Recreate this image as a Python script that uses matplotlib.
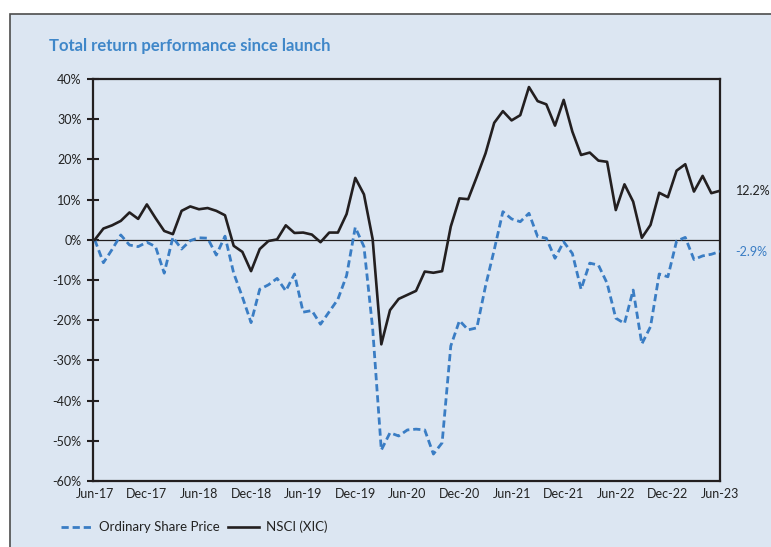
import numpy as np
import matplotlib.pyplot as plt
from matplotlib.patches import Rectangle
from matplotlib.lines import Line2D

plt.rcParams['font.family'] = ['Lato', 'DejaVu Sans']

# monthly total return since launch (%), Jun-17 .. Jun-23
share_price = [0.0, -5.7, -2.4, 1.2, -1.3, -1.7, -0.6, -1.7, -8.3, 0.6,
               -2.3, -0.2, 0.5, 0.4, -3.8, 0.9, -8.3, -14.2, -20.6, -12.3,
               -11.2, -9.6, -12.7, -8.5, -18.0, -17.6, -21.0, -17.9, -14.8, -8.9,
               3.1, -1.7, -22.0, -52.3, -48.0, -48.8, -47.3, -47.1, -47.3, -53.3,
               -50.5, -26.4, -20.1, -22.4, -21.9, -11.5, -2.5, 7.0, 5.2, 4.5,
               6.6, 0.8, 0.4, -4.6, -0.5, -3.4, -12.3, -5.8, -6.3, -10.8,
               -19.5, -20.8, -12.5, -25.9, -21.6, -8.5, -9.2, -0.3, 0.6, -4.9,
               -4.0, -3.6, -2.9]
nsci = [0.0, 2.8, 3.6, 4.7, 6.8, 5.2, 8.8, 5.4, 2.2, 1.4,
        7.2, 8.3, 7.6, 7.9, 7.2, 6.1, -1.5, -3.0, -7.8, -2.3,
        -0.3, 0.1, 3.6, 1.7, 1.8, 1.3, -0.6, 1.8, 1.8, 6.4,
        15.4, 11.3, 0.2, -26.0, -17.5, -14.7, -13.7, -12.7, -7.9, -8.2,
        -7.8, 3.3, 10.3, 10.1, 15.7, 21.5, 29.1, 32.0, 29.7, 31.0,
        38.0, 34.5, 33.7, 28.4, 34.8, 26.9, 21.1, 21.7, 19.7, 19.4,
        7.4, 13.8, 9.5, 0.5, 3.7, 11.7, 10.6, 17.2, 18.8, 12.0,
        15.9, 11.6, 12.2]
tick_labels = ['Jun-17', 'Dec-17', 'Jun-18', 'Dec-18', 'Jun-19', 'Dec-19', 'Jun-20',
               'Dec-20', 'Jun-21', 'Dec-21', 'Jun-22', 'Dec-22', 'Jun-23']
y_ticks = list(range(-60, 41, 10))

blue = '#3a7dc4'
dark = '#231f20'
panel = '#dce6f2'
dash = (0, (2.6, 1.4))

months = np.arange(len(nsci))

fig = plt.figure(figsize=(7.71, 5.47), dpi=100)
fig.patch.set_facecolor('white')
fig.patches.append(Rectangle((10 / 771, -0.1), 1.2, 1 - 14 / 547 + 0.1,
                             transform=fig.transFigure, facecolor=panel,
                             edgecolor='#4d4d4d', linewidth=1.2, zorder=-10))

ax = fig.add_axes([93 / 771, 1 - 481 / 547, 627 / 771, 402 / 547])
ax.set_facecolor(panel)

ax.plot(months, share_price, color=blue, lw=2.0, ls=dash, zorder=3)
ax.plot(months, nsci, color=dark, lw=1.9, zorder=4)
ax.axhline(0, color=dark, lw=0.9, zorder=2)

ax.set_xlim(-0.2, 72)
ax.set_ylim(-60, 40)
ax.set_yticks(y_ticks)
ax.set_yticklabels([f'{v}%' for v in y_ticks])
ax.set_xticks(months[::6])
ax.set_xticklabels(tick_labels)
ax.tick_params(axis='y', direction='inout', length=8.5, width=1.5, color=dark,
               labelsize=9, labelcolor='#222222', pad=4)
ax.tick_params(axis='x', length=0, labelsize=9, labelcolor='#222222', pad=5)
for s in ax.spines.values():
    s.set_color(dark)
    s.set_linewidth(1.6)

ax.annotate(f'{nsci[-1]:.1f}%', (months[-1], nsci[-1]), xytext=(16, 0),
            textcoords='offset pixels', va='center', ha='left',
            fontsize=9, color='#222222', annotation_clip=False)
ax.annotate(f'{share_price[-1]:.1f}%', (months[-1], share_price[-1]), xytext=(15, -1),
            textcoords='offset pixels', va='center', ha='left',
            fontsize=9, color=blue, annotation_clip=False)

fig.text(49 / 771, 1 - 46 / 547, 'Total return performance since launch',
         fontsize=12, fontweight='bold', color='#3f87c9', va='center', ha='left')

handles = [Line2D([], [], color=blue, lw=2.0, ls=dash),
           Line2D([], [], color=dark, lw=1.9)]
fig.legend(handles, ['Ordinary Share Price', 'NSCI (XIC)'], loc='center left',
           bbox_to_anchor=(49 / 771, 1 - 527 / 547), ncol=2, frameon=False,
           fontsize=9.5, handlelength=2.4, handletextpad=0.5, columnspacing=0.6,
           labelcolor='#222222')

fig.savefig('out.png', dpi=100, facecolor='white')
